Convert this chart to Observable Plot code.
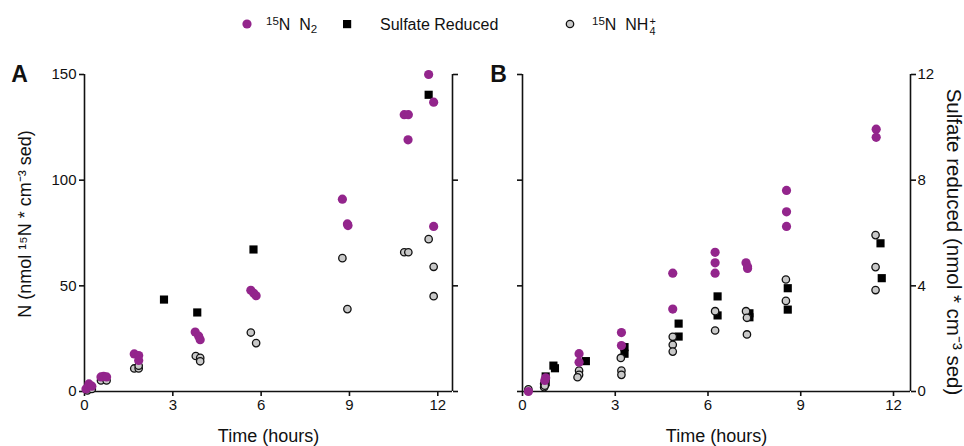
<!DOCTYPE html>
<html>
<head>
<meta charset="utf-8">
<script src="https://cdn.jsdelivr.net/npm/d3@7"></script>
<script src="https://cdn.jsdelivr.net/npm/@observablehq/plot@0.6"></script>
<style>
  body { margin: 0; background: #fff; font-family: "Liberation Sans", Arial, sans-serif; }
  #fig { position: relative; width: 964px; height: 446px; }
  #legend { position: relative; height: 46px; width: 964px; font-size: 16px; color: #111; }
  #legend .t { position: absolute; top: 15px; line-height: 20px; white-space: nowrap; }
  #legend sup { font-size: 0.72em; vertical-align: 0.45em; line-height: 0; }
  #legend sub { font-size: 0.72em; vertical-align: -0.3em; line-height: 0; }
  #legend .ss { display: inline-block; vertical-align: -0.45em; font-size: 0.68em; line-height: 0.9em; margin-left: 1px; }
  #legend .ss span { display: block; }
  #legend svg.m { position: absolute; top: 0; left: 0; }
  #panels { display: flex; }
</style>
</head>
<body>
<div id="fig">
  <div id="legend"></div>
  <div id="panels"></div>
</div>
<script>
// ---------- Panel A data (N, nmol 15N cm-3 sed) ----------
const aN2Time = [0.05, 0.15, 0.25, 0.56, 0.65, 0.75, 1.69, 1.84, 1.84, 3.76, 3.88, 3.93, 5.65, 5.75, 5.83, 8.76, 8.93, 8.95, 10.86, 11.0, 10.99, 11.69, 11.86, 11.86];
const aN2Value = [1.2, 3.6, 2.5, 6.9, 7.2, 6.9, 17.8, 17.0, 14.7, 28.1, 26.2, 24.5, 47.9, 46.5, 45.3, 91, 79.3, 78.5, 131, 131, 119.1, 150, 136.9, 78.1];
const aNH4Time = [0.1, 0.25, 0.56, 0.75, 1.69, 1.84, 1.84, 3.78, 3.93, 3.93, 5.65, 5.83, 8.76, 8.93, 10.86, 11.0, 11.69, 11.86, 11.86];
const aNH4Value = [0.5, 1.2, 5.2, 5.2, 10.9, 10.9, 12.2, 16.8, 15.9, 14.3, 27.9, 22.9, 63.1, 39, 65.9, 65.9, 72.1, 59, 45.1];
const aSO4Time = [2.7, 3.83, 5.74, 11.69];
const aSO4Value = [43.5, 37.4, 67.2, 140.4];

// ---------- Panel B data ----------
const bN2Time = [0.19, 0.75, 0.72, 1.83, 1.83, 3.2, 3.2, 4.86, 4.86, 6.23, 6.23, 6.23, 7.23, 7.28, 7.28, 8.54, 8.54, 8.54, 11.44, 11.44];
const bN2Value = [0, 0.52, 0.42, 1.43, 1.11, 2.23, 1.74, 4.48, 3.12, 5.27, 4.87, 4.48, 4.87, 4.72, 4.66, 7.61, 6.8, 6.25, 9.93, 9.62];
const bNH4Time = [0.19, 0.7, 0.7, 0.72, 1.83, 1.83, 1.78, 3.18, 3.2, 3.2, 4.86, 4.86, 4.86, 6.23, 6.23, 7.23, 7.26, 7.26, 8.52, 8.52, 11.42, 11.42, 11.42];
const bNH4Value = [0.08, 0.29, 0.16, 0.22, 0.79, 0.63, 0.54, 1.27, 0.79, 0.63, 2.07, 1.77, 1.51, 3.04, 2.31, 3.04, 2.79, 2.16, 4.24, 3.43, 5.92, 4.71, 3.84];
const bSO4Time = [0.75, 0.75, 1.0, 1.05, 2.05, 3.3, 3.3, 5.05, 5.05, 6.31, 6.31, 7.34, 7.34, 8.58, 8.58, 11.58, 11.62];
const bSO4Value = [0.57, 0.35, 0.98, 0.88, 1.15, 1.68, 1.43, 2.57, 2.08, 3.6, 2.88, 2.96, 2.81, 3.91, 3.1, 5.61, 4.29];

// ---------- ticks and labels ----------
const xTicks = [0, 3, 6, 9, 12];
const aYTicks = [0, 50, 100, 150];
const bYTicks = [0, 4, 8, 12];
const xLabel = "Time (hours)";
const aYLabel = "N (nmol \u00B9\u2075N * cm\u207B\u00B3 sed)";
const bYLabel = "Sulfate reduced (nmol * cm\u207B\u00B3 sed)";
const seriesNames = ["15N N2", "Sulfate Reduced", "15N NH4+"];

const PURPLE = "#93258c";
const GRAY = "#c9c9c9";
const FONT = "'Liberation Sans', Arial, sans-serif";

const zip = (t, v) => t.map((d, i) => ({time: d, value: v[i]}));

function panel({n2, nh4, so4, xDomain, yDomain, yTicks, leftLabels, rightLabels, marginLeft, marginRight, letter, letterDx, extra}) {
  return Plot.plot({
    width: 482,
    height: 400,
    marginTop: 28,
    marginBottom: 55,
    marginLeft,
    marginRight,
    style: {fontFamily: FONT, fontSize: "15px", color: "#111", background: "white", overflow: "visible"},
    x: {domain: xDomain, axis: null},
    y: {domain: yDomain, axis: null},
    marks: [
      Plot.ruleX([xDomain[0]], {stroke: "#111", strokeWidth: 1.6}),
      Plot.ruleX([xDomain[1]], {stroke: "#111", strokeWidth: 1.6}),
      Plot.ruleY([0], {stroke: "#111", strokeWidth: 1.6}),
      Plot.axisX({anchor: "bottom", ticks: xTicks, tickSize: 5, tickPadding: 3, strokeWidth: 1.6, label: null, fontSize: 15}),
      Plot.axisY({anchor: "left", ticks: yTicks, tickSize: 5, tickPadding: 3, strokeWidth: 1.6, label: null, fontSize: 15,
        tickFormat: leftLabels ? (d) => String(d) : () => ""}),
      Plot.axisY({anchor: "right", ticks: yTicks, tickSize: 5, tickPadding: 2, strokeWidth: 1.6, label: null, fontSize: 15,
        tickFormat: rightLabels ? (d) => String(d) : () => ""}),
      Plot.dot(zip(so4.t, so4.v), {x: "time", y: "value", symbol: "square", r: 4.6, fill: "#000", stroke: "none"}),
      Plot.dot(zip(nh4.t, nh4.v), {x: "time", y: "value", r: 3.7, fill: GRAY, stroke: "#111", strokeWidth: 1.3}),
      Plot.dot(zip(n2.t, n2.v), {x: "time", y: "value", r: 4.6, fill: PURPLE, stroke: "none"}),
      Plot.text([xLabel], {frameAnchor: "bottom", textAnchor: "middle", lineAnchor: "middle", dy: 45, fontSize: 18, fill: "#111"}),
      Plot.text([letter], {frameAnchor: "top-left", textAnchor: "middle", lineAnchor: "middle", dx: letterDx, dy: 0, fontSize: 23, fontWeight: "bold", fill: "#111"}),
      ...extra
    ]
  });
}

const plotA = panel({
  n2: {t: aN2Time, v: aN2Value},
  nh4: {t: aNH4Time, v: aNH4Value},
  so4: {t: aSO4Time, v: aSO4Value},
  xDomain: [0, 12.5], yDomain: [0, 150], yTicks: aYTicks,
  leftLabels: true, rightLabels: false,
  marginLeft: 84, marginRight: 30,
  letter: "A", letterDx: -65,
  extra: [Plot.text([aYLabel], {frameAnchor: "left", textAnchor: "middle", lineAnchor: "middle", rotate: -90, dx: -59, dy: -9, fontSize: 18, fill: "#111"})]
});

const plotB = panel({
  n2: {t: bN2Time, v: bN2Value},
  nh4: {t: bNH4Time, v: bNH4Value},
  so4: {t: bSO4Time, v: bSO4Value},
  xDomain: [0, 12.55], yDomain: [0, 12], yTicks: bYTicks,
  leftLabels: false, rightLabels: true,
  marginLeft: 40, marginRight: 54,
  letter: "B", letterDx: -24,
  extra: [Plot.text([bYLabel], {frameAnchor: "right", textAnchor: "middle", lineAnchor: "middle", rotate: 90, dx: 43, dy: 9, fontSize: 20.5, fill: "#111"})]
});

document.getElementById("panels").append(plotA, plotB);

// ---------- legend ----------
const legend = document.getElementById("legend");
const ns = "http://www.w3.org/2000/svg";
const msvg = document.createElementNS(ns, "svg");
msvg.setAttribute("class", "m");
msvg.setAttribute("width", 964);
msvg.setAttribute("height", 46);
const sel = d3.select(msvg);
sel.append("circle").attr("cx", 247).attr("cy", 24).attr("r", 4.6).attr("fill", PURPLE);
sel.append("rect").attr("x", 343).attr("y", 20).attr("width", 8.2).attr("height", 8.2).attr("fill", "#000");
sel.append("circle").attr("cx", 570).attr("cy", 24).attr("r", 3.7).attr("fill", GRAY).attr("stroke", "#111").attr("stroke-width", 1.3);
legend.append(msvg);

const items = [
  {left: 266, html: '<sup>15</sup>N&nbsp; N<sub>2</sub>', name: seriesNames[0]},
  {left: 380, html: 'Sulfate Reduced', name: seriesNames[1]},
  {left: 592, html: '<sup>15</sup>N&nbsp; NH<span class="ss"><span>+</span><span>4</span></span>', name: seriesNames[2]}
];
for (const it of items) {
  const s = document.createElement("span");
  s.className = "t";
  s.style.left = it.left + "px";
  s.innerHTML = it.html;
  s.setAttribute("aria-label", it.name);
  legend.append(s);
}
</script>
</body>
</html>
